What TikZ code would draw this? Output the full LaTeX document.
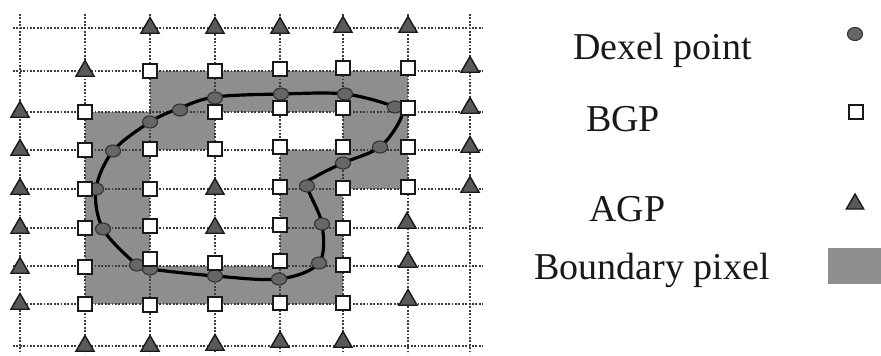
\documentclass[tikz,border=0pt]{standalone}
\usepackage{fontspec}
\setmainfont{Liberation Serif}
\usetikzlibrary{shapes.geometric}

\definecolor{pixelgray}{HTML}{8E8E8E}
\definecolor{griddark}{HTML}{3C3C3C}

\begin{document}
\begin{tikzpicture}[
    x=1pt, y=-1pt,
    gridline/.style={griddark, line width=1.9pt, dash pattern=on 1.7pt off 1.7pt},
    pixel/.style={fill=pixelgray, draw=none},
    contour/.style={black, line width=3.2pt, line cap=round},
    dexel/.style={ellipse, draw=black!80, line width=1.1pt, fill=black!60, minimum width=15pt, minimum height=12pt, inner sep=0pt},
    bgp/.style={rectangle, draw=black!90, line width=2pt, fill=white, minimum size=14.5pt, inner sep=0pt},
    agp/.style={regular polygon, regular polygon sides=3, draw=black!90, line width=1.4pt, fill=black!65, minimum size=21pt, inner sep=0pt},
    label/.style={anchor=base west, inner sep=0pt, font=\fontsize{38}{40}\selectfont, text=black!90}
]
\useasboundingbox (0,0) rectangle (881,356);

% Boundary pixels
\fill[pixelgray] (150,71) rectangle (408,112);
\fill[pixelgray] (85,112) rectangle (215,150);
\fill[pixelgray] (343,112) rectangle (408,150);
\fill[pixelgray] (85,150) rectangle (150,304);
\fill[pixelgray] (280,150) rectangle (408,189);
\fill[pixelgray] (280,189) rectangle (343,304);
\fill[pixelgray] (85,266) rectangle (343,304);

% Grid
\foreach \y in {28,71,112,150,189,228,266,304,346}
    \draw[gridline] (13,\y) -- (483,\y);
\foreach \x in {20,85,150,215,280,343,408,470}
    \draw[gridline] (\x,14) -- (\x,354);

% Contour
\draw[contour] plot[smooth cycle, tension=0.55] coordinates {
    (113,151) (150,122) (180,108) (215,97) (281,94) (345,94) (395,107)
    (401,118) (380,147) (343,163) (315,177) (307,186) (322,224) (319,263)
    (279,279) (215,276) (150,269) (137,265) (103,229) (96,189)};

% Dexel points
\foreach \x/\y [count=\i] in {113/151, 150/122, 180/110, 215/98, 281/94, 345/94, 395/107,
    380/147, 343/163, 307/186, 322/224, 319/263, 279/279, 215/276, 150/269, 137/265,
    103/229, 96/189}
    \node[dexel] (d\i) at (\x,\y) {};

% BGP
\foreach \x/\y [count=\i] in {150/71, 215/71, 280/69, 343/68, 408/68,
    85/112, 215/112, 280/108, 343/108, 408/108,
    85/150, 150/149, 215/149, 280/147, 343/147, 408/147,
    85/189, 150/189, 280/187, 343/188, 408/187,
    85/228, 150/226, 280/225, 343/228,
    85/267, 150/259, 215/263, 280/261, 343/265,
    85/304, 150/305, 215/304, 280/303, 343/303}
    \node[bgp] (b\i) at (\x,\y) {};

% AGP
\foreach \x/\y [count=\i] in {150/28, 215/28, 280/28, 343/27, 408/27,
    85/71, 470/67,
    20/112, 470/108,
    20/150, 470/147,
    20/189, 215/189, 470/187,
    20/228, 215/228, 407/223,
    20/268, 408/262,
    20/304, 408/300,
    85/346, 150/346, 215/345, 280/342, 343/342}
    \node[agp] (a\i) at (\x,\y) {};

% Legend
\node[label] (ldexel) at (573,59) {Dexel point};
\node[label] (lbgp) at (586,131) {BGP};
\node[label] (lagp) at (589,221) {AGP};
\node[label] (lpixel) at (534,279) {Boundary pixel};

\node[dexel, minimum width=15pt, minimum height=13pt] (kdexel) at (855,34) {};
\node[bgp, minimum size=14pt, line width=1.6pt] (kbgp) at (856,112) {};
\node[agp, minimum size=20pt] (kagp) at (855,204) {};
\node[pixel, minimum width=53pt, minimum height=36pt, inner sep=0pt, anchor=north west] (kpixel) at (828,248) {};

\end{tikzpicture}
\end{document}
